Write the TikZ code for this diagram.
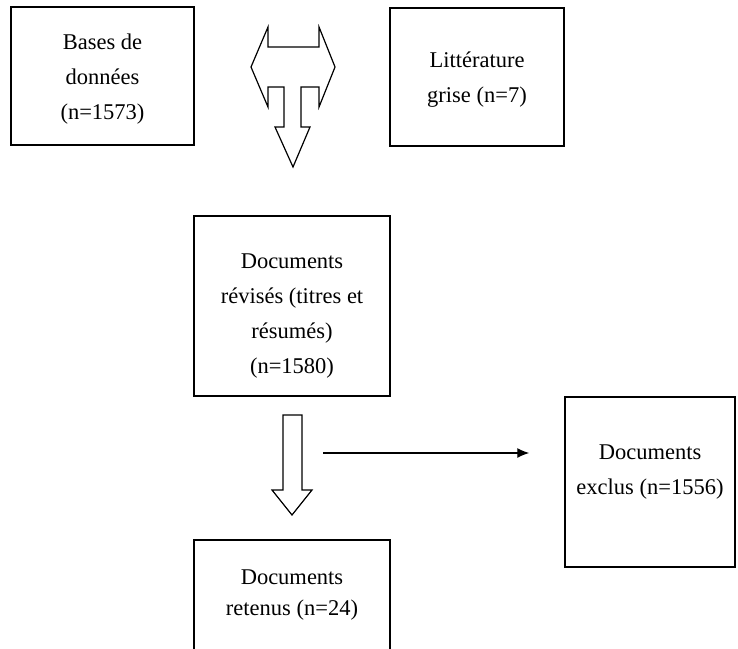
\documentclass[tikz,border=0pt]{standalone}
\usepackage{fontspec}
\setmainfont{Liberation Serif}
\usetikzlibrary{arrows.meta}
\begin{document}
\begin{tikzpicture}[x=1pt,y=-1pt,
  box/.style={draw, line width=1.5pt, rectangle, inner sep=0pt},
  txt/.style={align=center, inner sep=0pt, font=\fontsize{22.5}{35}\selectfont},
  blockarrow/.style={draw, line width=1.2pt, line join=miter, fill=white},
  thinarrow/.style={-{Latex[length=12pt,width=10pt]}, line width=1.2pt}]
\useasboundingbox (0,0) rectangle (738,648);
\clip (0,0) rectangle (738,648);
% boxes
\node[box, minimum width=183pt, minimum height=138pt] (bd) at (102.5,76) {};
\node[txt] (bdt) at (102.5,79) {Bases de\\données\\(n=1573)};
\node[box, minimum width=174pt, minimum height=138pt] (lg) at (477,77) {};
\node[txt] (lgt) at (477,80) {Littérature\\grise (n=7)};
\node[box, minimum width=196pt, minimum height=180pt] (rev) at (292,306) {};
\node[txt] (revt) at (292,316) {Documents\\révisés (titres et\\résumés)\\(n=1580)};
\node[box, minimum width=170pt, minimum height=170pt] (ex) at (650,482) {};
\node[txt] (ext) at (650,472) {Documents\\exclus (n=1556)};
\node[box, minimum width=196pt, minimum height=140pt] (ret) at (292,610) {};
\node[txt, font=\fontsize{22.5}{31}\selectfont] (rett) at (292,595) {Documents\\retenus (n=24)};
% top combined block arrow
\draw[blockarrow] (251,67) -- (268,27) -- (268,47) -- (319,47) -- (319,27) -- (335,67)
  -- (319,107) -- (319,87) -- (301,87) -- (301,127) -- (310,127) -- (293,167)
  -- (275,127) -- (284,127) -- (284,87) -- (268,87) -- (268,107) -- cycle;
% middle block arrow
\draw[blockarrow] (283,415) -- (302,415) -- (302,490) -- (312,490) -- (292,515)
  -- (272,490) -- (283,490) -- cycle;
% horizontal arrow
\coordinate (hs) at (323,453);
\draw[thinarrow, shorten >=35pt] (hs) -- (hs -| ex.west);
\end{tikzpicture}
\end{document}
